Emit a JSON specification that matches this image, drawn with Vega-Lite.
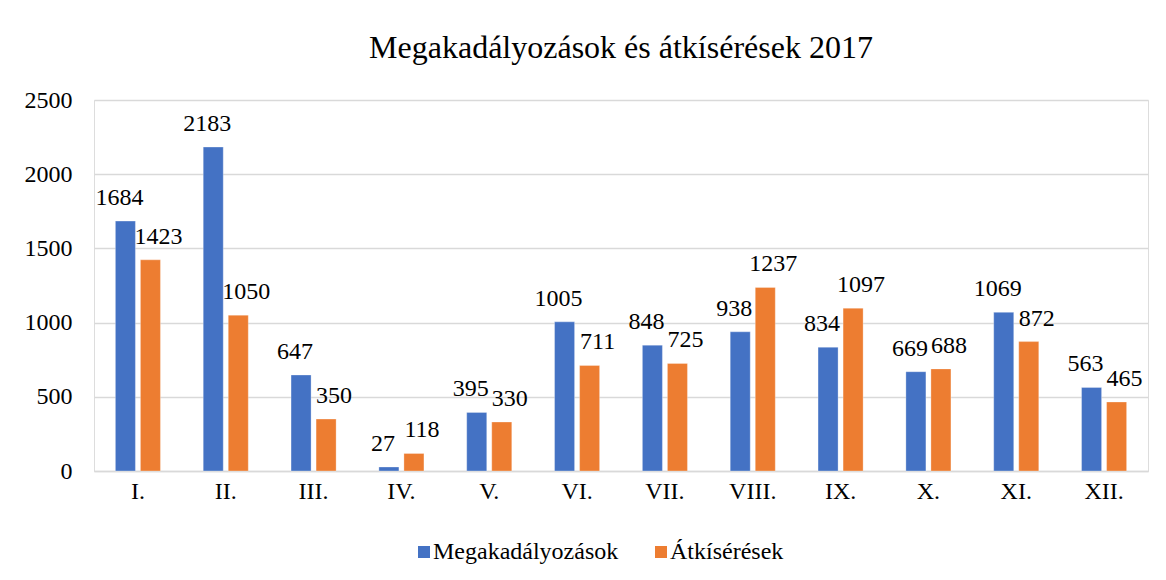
{
  "$schema": "https://vega.github.io/schema/vega-lite/v6.json",
  "autosize": {"type": "none"},
  "width": 1054,
  "height": 371,
  "padding": {"left": 94, "top": 100, "right": 18, "bottom": 109},
  "background": "white",
  "config": {
    "font": "Liberation Serif",
    "text": {"font": "Liberation Serif", "fontSize": 24, "color": "#000000"},
    "legend": {"labelFont": "Liberation Serif"}
  },
  "title": {
    "text": "Megakadályozások és átkísérések 2017",
    "font": "Liberation Serif",
    "fontSize": 32,
    "fontWeight": "normal",
    "color": "#000000",
    "anchor": "middle",
    "offset": 23
  },
  "data": {
    "values": [
      {"honap": "I.", "sorozat": "Megakadályozások", "ertek": 1684},
      {"honap": "I.", "sorozat": "Átkísérések", "ertek": 1423},
      {"honap": "II.", "sorozat": "Megakadályozások", "ertek": 2183},
      {"honap": "II.", "sorozat": "Átkísérések", "ertek": 1050},
      {"honap": "III.", "sorozat": "Megakadályozások", "ertek": 647},
      {"honap": "III.", "sorozat": "Átkísérések", "ertek": 350},
      {"honap": "IV.", "sorozat": "Megakadályozások", "ertek": 27},
      {"honap": "IV.", "sorozat": "Átkísérések", "ertek": 118},
      {"honap": "V.", "sorozat": "Megakadályozások", "ertek": 395},
      {"honap": "V.", "sorozat": "Átkísérések", "ertek": 330},
      {"honap": "VI.", "sorozat": "Megakadályozások", "ertek": 1005},
      {"honap": "VI.", "sorozat": "Átkísérések", "ertek": 711},
      {"honap": "VII.", "sorozat": "Megakadályozások", "ertek": 848},
      {"honap": "VII.", "sorozat": "Átkísérések", "ertek": 725},
      {"honap": "VIII.", "sorozat": "Megakadályozások", "ertek": 938},
      {"honap": "VIII.", "sorozat": "Átkísérések", "ertek": 1237},
      {"honap": "IX.", "sorozat": "Megakadályozások", "ertek": 834},
      {"honap": "IX.", "sorozat": "Átkísérések", "ertek": 1097},
      {"honap": "X.", "sorozat": "Megakadályozások", "ertek": 669},
      {"honap": "X.", "sorozat": "Átkísérések", "ertek": 688},
      {"honap": "XI.", "sorozat": "Megakadályozások", "ertek": 1069},
      {"honap": "XI.", "sorozat": "Átkísérések", "ertek": 872},
      {"honap": "XII.", "sorozat": "Megakadályozások", "ertek": 563},
      {"honap": "XII.", "sorozat": "Átkísérések", "ertek": 465}
    ]
  },
  "encoding": {
    "x": {
      "field": "honap",
      "type": "nominal",
      "sort": null,
      "scale": {"paddingInner": 0.487, "paddingOuter": 0.2435},
      "axis": {
        "title": null,
        "labelAngle": 0,
        "labelFont": "Liberation Serif",
        "labelFontSize": 24,
        "labelColor": "#000000",
        "labelPadding": 8,
        "ticks": false,
        "domainColor": "#d9d9d9",
        "domainWidth": 1.5,
        "grid": false
      }
    },
    "xOffset": {
      "field": "sorozat",
      "type": "nominal",
      "sort": ["Megakadályozások", "Átkísérések"],
      "scale": {"paddingInner": 0.2, "paddingOuter": 0}
    },
    "y": {
      "field": "ertek",
      "type": "quantitative",
      "scale": {"domain": [0, 2500], "nice": false},
      "axis": {
        "title": null,
        "values": [0, 500, 1000, 1500, 2000, 2500],
        "format": "d",
        "labelFont": "Liberation Serif",
        "labelFontSize": 24,
        "labelColor": "#000000",
        "labelPadding": 22,
        "ticks": false,
        "domain": false,
        "gridColor": "#d9d9d9",
        "gridWidth": 1.5
      }
    }
  },
  "layer": [
    {
      "mark": {"type": "bar", "stroke": "white", "strokeWidth": 0.5, "strokeOpacity": 0.6},
      "encoding": {
        "color": {
          "field": "sorozat",
          "type": "nominal",
          "sort": ["Megakadályozások", "Átkísérések"],
          "scale": {"domain": ["Megakadályozások", "Átkísérések"], "range": ["#4472C4", "#ED7D31"]},
          "legend": {
            "title": null,
            "orient": "none",
            "direction": "horizontal",
            "legendX": 318,
            "legendY": 440,
            "symbolType": "square",
            "symbolSize": 144,
            "symbolStrokeWidth": 0,
            "labelFont": "Liberation Serif",
            "labelFontSize": 24,
            "labelColor": "#000000",
            "labelOffset": -3,
            "labelLimit": 0,
            "columnPadding": 30
          }
        }
      }
    },
    {
      "transform": [{"filter": "datum.sorozat === 'Megakadályozások'"}],
      "mark": {
        "type": "text",
        "font": "Liberation Serif",
        "fontSize": 24,
        "fill": "#000000",
        "baseline": "alphabetic",
        "dy": -16,
        "dx": -6
      },
      "encoding": {
        "text": {"field": "ertek", "type": "quantitative", "format": "d"}
      }
    },
    {
      "transform": [{"filter": "datum.sorozat === 'Átkísérések'"}],
      "mark": {
        "type": "text",
        "font": "Liberation Serif",
        "fontSize": 24,
        "fill": "#000000",
        "baseline": "alphabetic",
        "dy": -16,
        "dx": 8
      },
      "encoding": {
        "text": {"field": "ertek", "type": "quantitative", "format": "d"}
      }
    }
  ]
}
